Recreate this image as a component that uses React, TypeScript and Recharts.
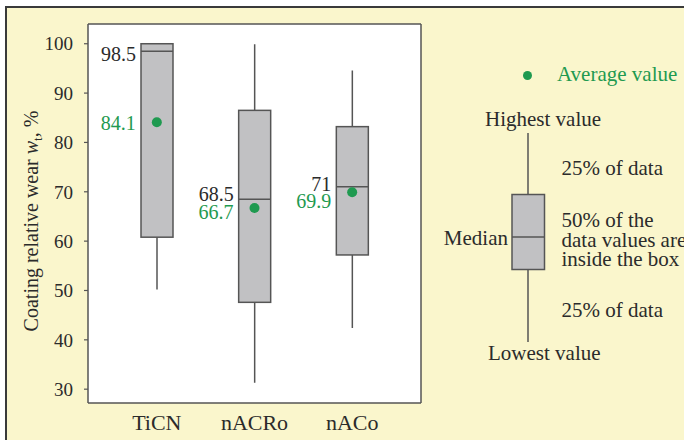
import { ComposedChart, Bar, Scatter, XAxis, YAxis, CartesianGrid } from "recharts";

const COATINGS = ["TiCN", "nACRo", "nACo"];
const MIN_VALUES = [50.2, 31.3, 42.4];
const Q1_VALUES = [60.8, 47.6, 57.2];
const MEDIAN_VALUES = [98.5, 68.5, 71];
const Q3_VALUES = [100, 86.5, 83.2];
const MAX_VALUES = [100, 99.9, 94.6];
const MEAN_VALUES = [84.1, 66.7, 69.9];
const Y_TICKS = [30, 40, 50, 60, 70, 80, 90, 100];
const Y_DOMAIN = [27.2, 104];

// small vertical nudges for the value labels so they don't collide
const MEDIAN_NUDGE = [2.6, -5.6, -3.3];
const MEAN_NUDGE = [0.6, 4, 8.3];

const GREEN = "#1f9a50";
const INK = "#2b2b2b";
const LINE = "#555555";
const BOX_FILL = "#c1c1c3";
const CREAM = "#faf6cc";
const FONT = "'Liberation Serif', 'Times New Roman', serif";

const data = COATINGS.map((name, i) => ({
  name,
  range: [MIN_VALUES[i], MAX_VALUES[i]],
  min: MIN_VALUES[i],
  q1: Q1_VALUES[i],
  median: MEDIAN_VALUES[i],
  q3: Q3_VALUES[i],
  max: MAX_VALUES[i],
  mean: MEAN_VALUES[i],
}));

function BoxShape(props: any) {
  const { x, y, width, height, payload } = props;
  const i = COATINGS.indexOf(payload.name);
  const top = Math.min(y, y + height);
  const h = Math.abs(height);
  const k = h / (payload.max - payload.min);
  const py = (v: number) => top + (payload.max - v) * k;
  const cx = x + width / 2;
  return (
    <g>
      <line x1={cx} x2={cx} y1={py(payload.max)} y2={py(payload.q3)} stroke={LINE} strokeWidth={1.5} />
      <line x1={cx} x2={cx} y1={py(payload.q1)} y2={py(payload.min)} stroke={LINE} strokeWidth={1.5} />
      <rect
        x={x}
        y={py(payload.q3)}
        width={width}
        height={py(payload.q1) - py(payload.q3)}
        fill={BOX_FILL}
        stroke={LINE}
        strokeWidth={1.5}
      />
      <line x1={x} x2={x + width} y1={py(payload.median)} y2={py(payload.median)} stroke={LINE} strokeWidth={1.5} />
      <text
        x={x - 5}
        y={py(payload.median) + MEDIAN_NUDGE[i]}
        dy="0.35em"
        textAnchor="end"
        fontFamily={FONT}
        fontSize={20}
        fill={INK}
      >
        {String(payload.median)}
      </text>
    </g>
  );
}

function MeanDot(props: any) {
  const { cx, cy, payload } = props;
  const i = COATINGS.indexOf(payload.name);
  return (
    <g>
      <circle cx={cx} cy={cy} r={5} fill={GREEN} />
      <text
        x={cx - 21}
        y={cy + MEAN_NUDGE[i]}
        dy="0.35em"
        textAnchor="end"
        fontFamily={FONT}
        fontSize={20}
        fill={GREEN}
      >
        {String(payload.mean)}
      </text>
    </g>
  );
}

function YLabel() {
  const x = 31;
  const y = 221;
  return (
    <text
      x={x}
      y={y}
      transform={`rotate(-90 ${x} ${y})`}
      textAnchor="middle"
      dy="0.35em"
      fontFamily={FONT}
      fontSize={20}
      fill={INK}
    >
      Coating relative wear <tspan fontStyle="italic">w</tspan>
      <tspan fontSize={13} dy={4}>t</tspan>
      <tspan dy={-4}>, %</tspan>
    </text>
  );
}

function BoxKey() {
  const t = { fontFamily: FONT, fontSize: 21, fill: INK };
  return (
    <svg width={684} height={440} style={{ position: "absolute", left: 0, top: 0, pointerEvents: "none" }}>
      <circle cx={527.5} cy={75.5} r={4.5} fill={GREEN} />
      <text x={557} y={73.5} dy="0.35em" {...t} fill={GREEN}>Average value</text>
      <text x={485} y={118.5} dy="0.35em" {...t}>Highest value</text>
      <line x1={528} x2={528} y1={133} y2={194.5} stroke={LINE} strokeWidth={1.5} />
      <rect x={512} y={194.5} width={32.5} height={75} fill={BOX_FILL} stroke={LINE} strokeWidth={1.5} />
      <line x1={512} x2={544.5} y1={237} y2={237} stroke={LINE} strokeWidth={1.5} />
      <line x1={528} x2={528} y1={269.5} y2={342} stroke={LINE} strokeWidth={1.5} />
      <text x={561.5} y={167.5} dy="0.35em" {...t}>25% of data</text>
      <text x={508} y={237.5} dy="0.35em" textAnchor="end" {...t}>Median</text>
      <text x={561.5} y={219.5} dy="0.35em" {...t}>50% of the</text>
      <text x={561.5} y={240} dy="0.35em" {...t}>data values are</text>
      <text x={561.5} y={259} dy="0.35em" {...t}>inside the box</text>
      <text x={561.5} y={309.5} dy="0.35em" {...t}>25% of data</text>
      <text x={488} y={352.5} dy="0.35em" {...t}>Lowest value</text>
    </svg>
  );
}

export default function App() {
  return (
    <div style={{ position: "absolute", left: 0, top: 0, width: 684, height: 440, background: "#ffffff", overflow: "hidden" }}>
      <div
        style={{
          position: "absolute",
          left: 5,
          top: 6,
          right: 0,
          bottom: 0,
          background: CREAM,
          borderTop: "2px solid #3a3a3a",
          borderLeft: "2px solid #3a3a3a",
        }}
      />
      <ComposedChart
        width={684}
        height={440}
        data={data}
        margin={{ top: 23, right: 262, bottom: 0, left: 0 }}
        style={{ position: "absolute", left: 0, top: 0 }}
      >
        <CartesianGrid fill="#ffffff" stroke="none" />
        <XAxis
          dataKey="name"
          height={37}
          padding={{ left: 20, right: 20 }}
          axisLine={{ stroke: LINE, strokeWidth: 1.5 }}
          tickLine={false}
          tickSize={6}
          tickMargin={5}
          tick={{ fontFamily: FONT, fontSize: 22, fill: INK }}
        />
        <XAxis
          xAxisId="frame"
          orientation="top"
          dataKey="name"
          height={1}
          padding={{ left: 20, right: 20 }}
          tick={false}
          tickLine={false}
          axisLine={{ stroke: LINE, strokeWidth: 1.5 }}
        />
        <YAxis
          width={88}
          domain={Y_DOMAIN}
          ticks={Y_TICKS}
          allowDataOverflow
          axisLine={{ stroke: LINE, strokeWidth: 1.5 }}
          tickLine={{ stroke: LINE, strokeWidth: 1.2 }}
          tickSize={4}
          tickMargin={11}
          tick={{ fontFamily: FONT, fontSize: 19, fill: INK }}
        />
        <YAxis
          yAxisId="frame"
          orientation="right"
          width={1}
          domain={Y_DOMAIN}
          allowDataOverflow
          tick={false}
          tickLine={false}
          axisLine={{ stroke: LINE, strokeWidth: 1.5 }}
        />
        <Bar dataKey="range" barSize={32} shape={<BoxShape />} isAnimationActive={false} />
        <Scatter
          dataKey="mean"
          xAxisId="frame"
          yAxisId="frame"
          shape={<MeanDot />}
          isAnimationActive={false}
        />
      </ComposedChart>
      <svg width={684} height={440} style={{ position: "absolute", left: 0, top: 0, pointerEvents: "none" }}>
        <YLabel />
      </svg>
      <BoxKey />
    </div>
  );
}
